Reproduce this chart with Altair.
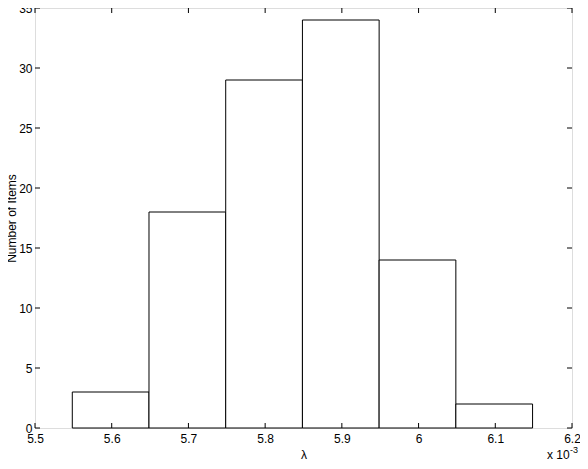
import altair as alt
import pandas as pd

bin_left = [5.5486, 5.6486, 5.7486, 5.8486, 5.9486, 6.0486]
bin_right = [5.6486, 5.7486, 5.8486, 5.9486, 6.0486, 6.1486]
counts = [3, 18, 29, 34, 14, 2]
x_ticks = [5.5, 5.6, 5.7, 5.8, 5.9, 6.0, 6.1, 6.2]
y_ticks = [0, 5, 10, 15, 20, 25, 30, 35]

W, H = 537, 420
FONT = "Liberation Sans"
FS = 12

bars_df = pd.DataFrame({"l": bin_left, "r": bin_right, "n": counts})
xt_df = pd.DataFrame({"t": x_ticks})
yt_df = pd.DataFrame({"t": y_ticks})

xscale = alt.Scale(domain=[5.5, 6.2], nice=False, zero=False)
yscale = alt.Scale(domain=[0, 35], nice=False)

bars = alt.Chart(bars_df).mark_rect(fill="white", stroke="black", strokeWidth=1).encode(
    x=alt.X("l:Q", scale=xscale,
            axis=alt.Axis(values=x_ticks, ticks=False, domain=False, grid=False,
                          labelFont=FONT, labelFontSize=FS, labelColor="black",
                          labelPadding=5, labelFlush=False, labelOverlap=False,
                          labelExpr="datum.value == 6 ? '6' : format(datum.value, '.1f')",
                          title="λ", titleFont=FONT, titleFontSize=FS, titleFontWeight="normal",
                          titleColor="black", titleY=26, titleBaseline="middle", titlePadding=0)),
    x2="r:Q",
    y=alt.Y("n:Q", scale=yscale,
            axis=alt.Axis(values=y_ticks, ticks=False, domain=False, grid=False,
                          labelFont=FONT, labelFontSize=FS, labelColor="black",
                          labelPadding=3, labelFlush=False, labelOverlap=False,
                          title="Number of Items", titleFont=FONT, titleFontSize=FS,
                          titleFontWeight="normal", titleColor="black", titleX=-17,
                          titleY=H / 2)),
    y2=alt.datum(0),
)

tick_b = alt.Chart(xt_df).mark_rule(color="black", strokeWidth=1).encode(
    x=alt.X("t:Q", scale=xscale), y=alt.value(H), y2=alt.value(H - 5))
tick_t = alt.Chart(xt_df).mark_rule(color="black", strokeWidth=1).encode(
    x=alt.X("t:Q", scale=xscale), y=alt.value(0), y2=alt.value(5))
tick_l = alt.Chart(yt_df).mark_rule(color="black", strokeWidth=1).encode(
    y=alt.Y("t:Q", scale=yscale), x=alt.value(0), x2=alt.value(5))
tick_r = alt.Chart(yt_df).mark_rule(color="black", strokeWidth=1).encode(
    y=alt.Y("t:Q", scale=yscale), x=alt.value(W), x2=alt.value(W - 5))

exp_main = alt.Chart(pd.DataFrame({"s": ["x 10"]})).mark_text(
    font=FONT, fontSize=FS, color="black", align="left", baseline="middle").encode(
    text="s:N", x=alt.value(W - 25), y=alt.value(H + 27))
exp_sup = alt.Chart(pd.DataFrame({"s": ["-3"]})).mark_text(
    font=FONT, fontSize=9, color="black", align="left", baseline="middle").encode(
    text="s:N", x=alt.value(W - 2), y=alt.value(H + 22))

chart = alt.layer(bars, tick_b, tick_t, tick_l, tick_r, exp_main, exp_sup).properties(
    width=W, height=H,
    autosize=alt.AutoSizeParams(type="none"),
    padding={"left": 27, "top": 0, "right": 8, "bottom": 33},
).configure_view(stroke="black", strokeWidth=1).configure(background="white")

chart.save("out.html", embed_options={"renderer": "svg", "actions": False})
